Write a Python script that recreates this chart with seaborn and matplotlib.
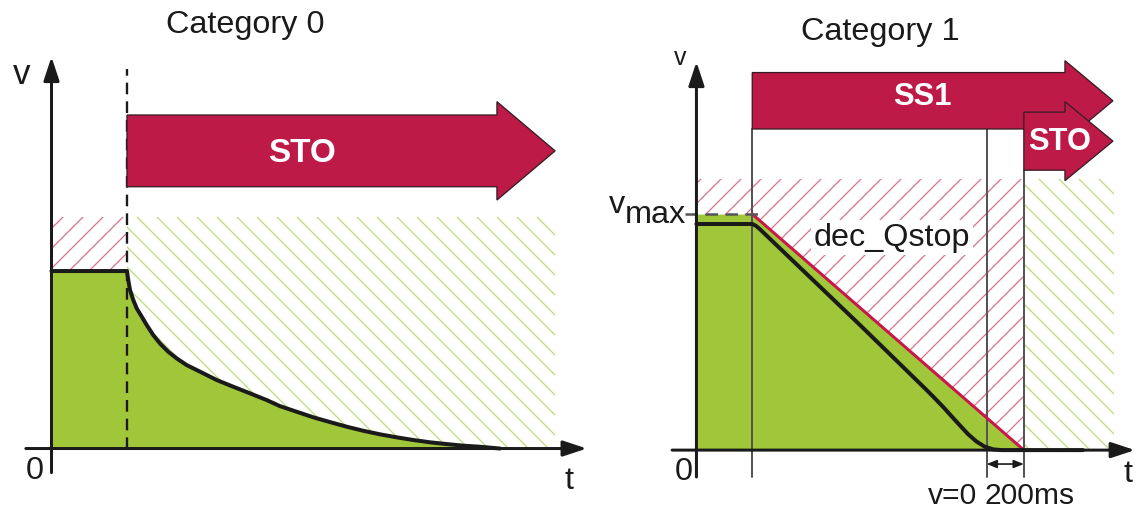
import matplotlib
matplotlib.use("Agg")
import matplotlib.pyplot as plt
from matplotlib.patches import FancyArrow
import seaborn as sns

# ---- Category 0: STO, drive coasts down freely (speed normalised to running speed)
cat0_run_t = [0.0, 1.0]
cat0_run_v = [1.0, 1.0]
cat0_coast_t = [1.0, 1.017, 1.040, 1.083, 1.128, 1.195, 1.261, 1.348, 1.437, 1.547,
                1.658, 1.791, 1.967, 2.188, 2.408, 2.629, 2.850, 3.025, 3.249, 3.467,
                3.689, 3.910, 4.130, 4.351, 4.572, 4.792, 5.013, 5.234, 5.455, 5.675, 5.94]
cat0_coast_v = [1.0, 0.949, 0.893, 0.837, 0.790, 0.743, 0.696, 0.639, 0.592, 0.545,
                0.508, 0.470, 0.433, 0.386, 0.348, 0.311, 0.273, 0.239, 0.207, 0.176,
                0.149, 0.123, 0.100, 0.080, 0.063, 0.048, 0.035, 0.025, 0.016, 0.010, 0.0]
cat0_sto_t = 1.0
cat0_limit_v = 1.307
cat0_end_t = 6.67

# ---- Category 1: SS1 ramp-down, STO 200 ms after standstill (time in ms, speed / vmax)
cat1_ss1_t = 300
cat1_v0_t = 1560
cat1_sto_t = 1760
cat1_vmax = 1.0
cat1_speed_t = [0, 300, 320, 341, 879, 1238, 1282, 1327, 1372, 1417, 1461, 1506,
                1551, 1596, 1640, 2078]
cat1_speed_v = [0.958, 0.958, 0.950, 0.936, 0.530, 0.254, 0.219, 0.182, 0.143, 0.104,
                0.067, 0.036, 0.014, 0.003, 0.0, 0.0]
cat1_ramp_t = [0, 300, 1760]
cat1_ramp_v = [1.0, 1.0, 0.0]
cat1_limit_v = 1.15
cat1_end_t = 2245

labels0 = {"title": "Category 0", "sto": "STO"}
labels1 = {"title": "Category 1", "ss1": "SS1", "sto": "STO",
           "ramp": "dec_Qstop", "v0": "v=0", "delay": "200ms"}

CRIMSON = "#BE1A48"
GREEN = "#A0C63A"
HATCH_RED = "#D9728A"
HATCH_GREEN = "#BCD97A"
INK = "#1A1A1A"
GREY = "#555555"

sns.set_style("white")
plt.rcParams["font.family"] = ["Liberation Sans", "DejaVu Sans"]
plt.rcParams["hatch.linewidth"] = 0.75

DPI = 120
fig = plt.figure(figsize=(1139 / DPI, 511 / DPI), dpi=DPI)
ax0 = fig.add_axes([0, 0, 580 / 1139, 1])
ax1 = fig.add_axes([580 / 1139, 0, 559 / 1139, 1])
for ax in (ax0, ax1):
    ax.set_axis_off()

ax0.set_xlim(-0.682, 7.0)
ax0.set_ylim(-0.352, 2.527)
ax1.set_xlim(-626, 2379)
ax1.set_ylim(-0.258, 1.907)


def axis_arrow(ax, start, end, lw=1.8):
    ax.annotate("", xy=end, xytext=start, annotation_clip=False,
                arrowprops=dict(arrowstyle="-|>,head_length=1.0,head_width=0.33",
                                mutation_scale=12, lw=lw, color=INK,
                                shrinkA=0, shrinkB=0), zorder=6)


def band_arrow(ax, x0, x1, yc, body_h, head_h, head_len, z=5):
    ax.add_patch(FancyArrow(x0, yc, x1 - x0, 0, width=body_h, head_width=head_h,
                            head_length=head_len, length_includes_head=True,
                            fc=CRIMSON, ec="#3A1E26", lw=0.8, zorder=z))


# ================= Category 0 =================
ax0.fill_between([0, cat0_sto_t], 0, cat0_limit_v, facecolor="none",
                 edgecolor=HATCH_RED, hatch="//", linewidth=0, zorder=1)
ax0.fill_between([cat0_sto_t, cat0_end_t], 0, cat0_limit_v, facecolor="none",
                 edgecolor=HATCH_GREEN, hatch="\\\\", linewidth=0, zorder=1)
ax0.fill_between(cat0_run_t + cat0_coast_t, 0, cat0_run_v + cat0_coast_v,
                 color=GREEN, linewidth=0, zorder=2)
sns.lineplot(x=cat0_run_t + cat0_coast_t[1:], y=cat0_run_v + cat0_coast_v[1:],
             sort=False, estimator=None, color=INK, lw=2.4, ax=ax0, zorder=4)

ax0.plot([cat0_sto_t, cat0_sto_t], [0, 2.138], color=INK, lw=1.4,
         dashes=(5, 3), zorder=4)

axis_arrow(ax0, (-0.34, 0), (7.09, 0))
axis_arrow(ax0, (0, -0.136), (0, 2.207))

band_arrow(ax0, cat0_sto_t, cat0_end_t, 1.677, 0.404, 0.554, 0.77)
ax0.text(3.32, 1.66, labels0["sto"], color="white", fontsize=20,
         fontweight="bold", ha="center", va="center", zorder=7)

ax0.text(2.563, 2.386, labels0["title"], fontsize=19.4, ha="center", va="center",
         color=INK)
ax0.text(-0.397, 2.11, "v", fontsize=21, ha="center", va="center", color=INK)
ax0.text(-0.219, -0.127, "0", fontsize=19.4, ha="center", va="center", color=INK)
ax0.text(6.85, -0.183, "t", fontsize=19.4, ha="center", va="center", color=INK)

# ================= Category 1 =================
ax1.fill_between([0, cat1_sto_t], 0, cat1_limit_v, facecolor="none",
                 edgecolor=HATCH_RED, hatch="//", linewidth=0, zorder=1)
ax1.fill_between([cat1_sto_t, cat1_end_t], 0, cat1_limit_v, facecolor="none",
                 edgecolor=HATCH_GREEN, hatch="\\\\", linewidth=0, zorder=1)
ax1.fill_between(cat1_ramp_t, 0, cat1_ramp_v, color=GREEN, linewidth=0, zorder=2)

# monitored deceleration limit
sns.lineplot(x=cat1_ramp_t[1:], y=cat1_ramp_v[1:], color="#C8174A", lw=1.8,
             estimator=None, sort=False, ax=ax1, zorder=4)
# actual speed
sns.lineplot(x=cat1_speed_t, y=cat1_speed_v, color=INK, lw=2.4,
             estimator=None, sort=False, ax=ax1, zorder=5)

ax1.plot([-62, 357], [cat1_vmax, cat1_vmax], color=GREY, lw=1.5,
         dashes=(5, 3), zorder=4)

for t_mark, top in ((cat1_ss1_t, 1.361), (cat1_v0_t, 1.361), (cat1_sto_t, 1.186)):
    ax1.plot([t_mark, t_mark], [-0.114, top], color=GREY, lw=1.2, zorder=3)

axis_arrow(ax1, (-131, 0), (2357, 0))
axis_arrow(ax1, (0, -0.114), (0, 1.645))

band_arrow(ax1, cat1_ss1_t, 2239, 1.480, 0.239, 0.340, 258, z=5)
band_arrow(ax1, cat1_sto_t, 2239, 1.309, 0.246, 0.335, 258, z=6)
ax1.text(1213, 1.494, labels1["ss1"], color="white", fontsize=18.5,
         fontweight="bold", ha="center", va="center", zorder=8)
ax1.text(1954, 1.305, labels1["sto"], color="white", fontsize=18.5,
         fontweight="bold", ha="center", va="center", zorder=8)

ax1.text(1051, 0.90, labels1["ramp"], fontsize=19.4, ha="center", va="center",
         color=INK, zorder=7,
         bbox=dict(facecolor="white", edgecolor="none", pad=1.5))

ax1.annotate("", xy=(cat1_sto_t, -0.059), xytext=(cat1_v0_t, -0.059),
             arrowprops=dict(arrowstyle="<|-|>,head_length=0.5,head_width=0.2",
                             mutation_scale=10, lw=1.0, color=INK,
                             shrinkA=0, shrinkB=0), zorder=6)
ax1.text(cat1_v0_t - 52, -0.228, labels1["v0"], fontsize=18, ha="right",
         va="baseline", color=INK)
ax1.text(cat1_v0_t - 9, -0.228, labels1["delay"], fontsize=18, ha="left",
         va="baseline", color=INK)

ax1.text(987, 1.771, labels1["title"], fontsize=19.4, ha="center", va="center",
         color=INK)
ax1.text(-89, 1.66, "v", fontsize=15, ha="center", va="center", color=INK)
ax1.text(-384, 1.004, "v", fontsize=19.4, ha="right", va="baseline", color=INK)
ax1.text(-384, 0.962, "max", fontsize=19.4, ha="left", va="baseline", color=INK)
ax1.text(-67, -0.091, "0", fontsize=19.4, ha="center", va="center", color=INK)
ax1.text(2320, -0.10, "t", fontsize=19.4, ha="center", va="center", color=INK)

fig.savefig("out.png", dpi=DPI, facecolor="white")
